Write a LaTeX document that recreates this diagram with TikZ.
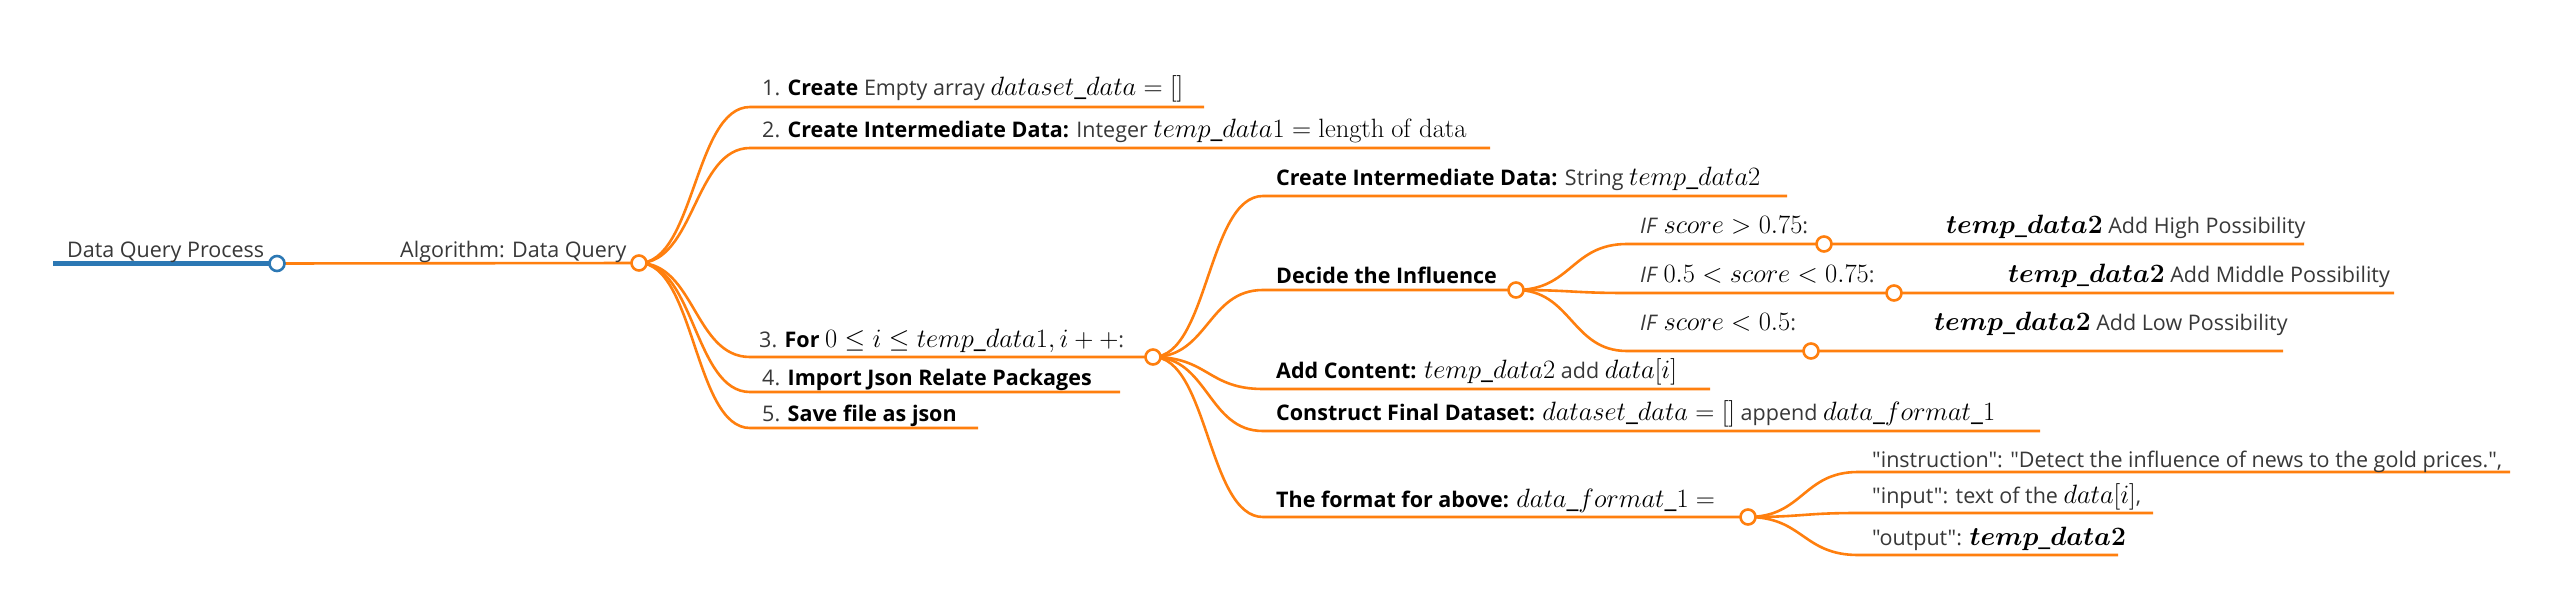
\RequirePackage{fix-cm}
\documentclass[tikz,border=0pt]{standalone}
\usepackage{amsmath}
\usepackage{bm}
\usepackage[no-math]{fontspec}
\setmainfont{Open Sans}[Ligatures=TeXOff]
\usetikzlibrary{calc}
\definecolor{mmorange}{RGB}{255,127,14}
\definecolor{mmblue}{RGB}{44,120,180}
\newcommand\mmfont{\fontsize{21.5}{26}\selectfont}
\newcommand\B[1]{\textcolor{black}{\bfseries #1}}
\newcommand\M[1]{\textcolor{black}{\fontsize{26.5}{30}\selectfont$#1$}}
\pgfdeclarelayer{back}
\pgfdeclarelayer{bg}
\pgfsetlayers{back,bg,main}
\tikzset{
  conn/.style={draw=mmorange, line width=2.6pt},
  rootline/.style={draw=mmblue, line width=5pt},
  dot/.style={circle, draw=mmorange, fill=white, line width=2.6pt, minimum size=15pt, inner sep=0pt},
  bdot/.style={circle, draw=mmblue, fill=white, line width=2.6pt, minimum size=15pt, inner sep=0pt},
  lbl/.style={anchor=base west, inner sep=0pt, font=\mmfont, text=black!78},
  link/.style={to path={let \p1=(\tikztostart), \p2=(\tikztotarget) in
     .. controls ({(\x1+\x2)/2},\y1) and ({(\x1+\x2)/2},\y2) .. (\tikztotarget)}},
}
\begin{document}
\begin{tikzpicture}[x=1pt,y=-1pt]
\begin{pgfonlayer}{back}
\fill[white] (0,0) rectangle (2551,591);
\end{pgfonlayer}
\useasboundingbox (0,0) rectangle (2551,591);
% root
\coordinate (r0) at (53,263.5);
\node[bdot] (rc) at (277,263.5) {};
\node[lbl] (rt) at (67,257) {Data Query Process};
% level 1
\node[dot] (ac) at (639,263) {};
\node[lbl] (at) at (400,257) {Algorithm: Data Query};
% level 2
\coordinate (c1s) at (750,107); \coordinate (c1e) at (1204,107);
\coordinate (c2s) at (750,148); \coordinate (c2e) at (1490,148);
\coordinate (c3s) at (750,357);
\node[dot] (bc) at (1153,357) {};
\coordinate (c4s) at (750,392); \coordinate (c4e) at (1120,392);
\coordinate (c5s) at (750,428); \coordinate (c5e) at (978,428);
\node[lbl] (c1) at (762,96) {1. \B{Create} Empty array \M{dataset\_data = []}};
\node[lbl] (c2) at (762,138) {2. \B{Create Intermediate Data:} Integer \M{temp\_data1 = \mathrm{length\ of\ data}}};
\node[lbl] (c3) at (759,347) {3. \B{For} \M{0 \le i \le temp\_data1, i + +}:};
\node[lbl] (c4) at (762,385) {4. \B{Import Json Relate Packages}};
\node[lbl] (c5) at (762,421) {5. \B{Save file as json}};
% level 3
\coordinate (d1s) at (1263,196); \coordinate (d1e) at (1787,196);
\coordinate (d2s) at (1263,290);
\node[dot] (cc) at (1516,290) {};
\coordinate (d3s) at (1263,389); \coordinate (d3e) at (1710,389);
\coordinate (d4s) at (1263,431); \coordinate (d4e) at (2040,431);
\coordinate (d5s) at (1263,517);
\node[dot] (dc) at (1748,517) {};
\node[lbl] (d1) at (1276,185) {\B{Create Intermediate Data:} String \M{temp\_data2}};
\node[lbl] (d2) at (1276,283) {\B{Decide the Influence}};
\node[lbl] (d3) at (1276,378) {\B{Add Content:} \M{temp\_data2} add \M{data[i]}};
\node[lbl] (d4) at (1276,420) {\B{Construct Final Dataset:} \M{dataset\_data = []} append \M{data\_format\_1}};
\node[lbl] (d5) at (1276,507) {\B{The format for above:} \M{data\_format\_1 =}};
% level 4: IF branches
\coordinate (e1s) at (1627,244);
\node[dot] (e1c) at (1824,244) {};
\coordinate (e1e) at (2304,244);
\coordinate (e2s) at (1627,293);
\node[dot] (e2c) at (1894,293) {};
\coordinate (e2e) at (2394,293);
\coordinate (e3s) at (1627,351);
\node[dot] (e3c) at (1811,351) {};
\coordinate (e3e) at (2283,351);
\node[lbl] (e1) at (1640,233) {\textit{IF} \M{score > 0.75}:};
\node[lbl] (e2) at (1640,282) {\textit{IF} \M{0.5 < score < 0.75}:};
\node[lbl] (e3) at (1640,330) {\textit{IF} \M{score < 0.5}:};
\node[lbl] (e1t) at (1946,233) {\M{\bm{temp\_data2}} Add High Possibility};
\node[lbl] (e2t) at (2008,282) {\M{\bm{temp\_data2}} Add Middle Possibility};
\node[lbl] (e3t) at (1934,330) {\M{\bm{temp\_data2}} Add Low Possibility};
% level 4: format
\coordinate (f1s) at (1858,472); \coordinate (f1e) at (2510,472);
\coordinate (f2s) at (1858,513); \coordinate (f2e) at (2153,513);
\coordinate (f3s) at (1858,555); \coordinate (f3e) at (2118,555);
\node[lbl] (f1) at (1872,467) {"instruction": "Detect the influence of news to the gold prices.",};
\node[lbl] (f2) at (1872,503) {"input": text of the \M{data[i]},};
\node[lbl] (f3) at (1872,545) {"output": \M{\bm{temp\_data2}}};
% connectors
\begin{pgfonlayer}{bg}
\draw[rootline] (r0) -- (rc.center);
\draw[conn] (rc.center) -- (ac.center);
\draw[conn] (ac.center) to[link] (c1s) -- (c1e);
\draw[conn] (ac.center) to[link] (c2s) -- (c2e);
\draw[conn] (ac.center) to[link] (c3s) -- (bc.center);
\draw[conn] (ac.center) to[link] (c4s) -- (c4e);
\draw[conn] (ac.center) to[link] (c5s) -- (c5e);
\draw[conn] (bc.center) to[link] (d1s) -- (d1e);
\draw[conn] (bc.center) to[link] (d2s) -- (cc.center);
\draw[conn] (bc.center) to[link] (d3s) -- (d3e);
\draw[conn] (bc.center) to[link] (d4s) -- (d4e);
\draw[conn] (bc.center) to[link] (d5s) -- (dc.center);
\draw[conn] (cc.center) to[link] (e1s) -- (e1c.center) -- (e1e);
\draw[conn] (cc.center) to[link] (e2s) -- (e2c.center) -- (e2e);
\draw[conn] (cc.center) to[link] (e3s) -- (e3c.center) -- (e3e);
\draw[conn] (dc.center) to[link] (f1s) -- (f1e);
\draw[conn] (dc.center) to[link] (f2s) -- (f2e);
\draw[conn] (dc.center) to[link] (f3s) -- (f3e);
\end{pgfonlayer}
\end{tikzpicture}
\end{document}
